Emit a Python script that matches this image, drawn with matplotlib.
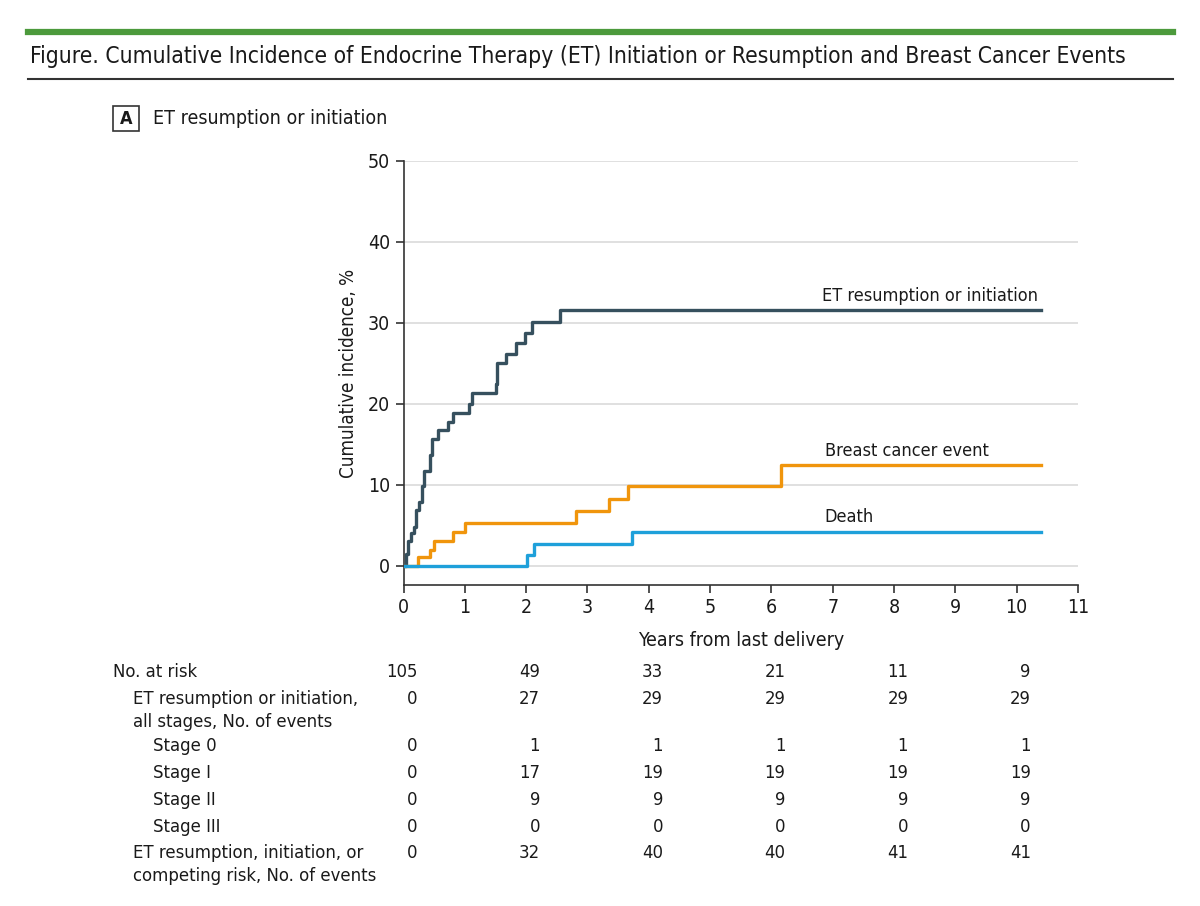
import matplotlib
matplotlib.use("Agg")
import matplotlib.pyplot as plt
from matplotlib.patches import Rectangle
from matplotlib.lines import Line2D

plt.rcParams['font.family'] = ['DejaVu Sans']
plt.rcParams['font.stretch'] = 'condensed'

# step curves (years, cumulative incidence %)
et_years = [0, 0.04, 0.08, 0.13, 0.17, 0.20, 0.26, 0.30, 0.33, 0.44, 0.46, 0.57,
            0.73, 0.81, 1.07, 1.11, 1.51, 1.53, 1.67, 1.84, 1.98, 2.09, 2.55, 10.4]
et_pct = [0, 1.5, 3.0, 4.0, 4.8, 6.9, 7.9, 9.8, 11.7, 13.7, 15.7, 16.8,
          17.8, 18.9, 20.0, 21.3, 22.4, 25.0, 26.2, 27.5, 28.8, 30.1, 31.6, 31.6]

bc_years = [0, 0.24, 0.44, 0.50, 0.80, 1.00, 2.81, 3.35, 3.66, 6.16, 10.4]
bc_pct = [0, 1.1, 2.0, 3.1, 4.2, 5.3, 6.8, 8.2, 9.8, 12.4, 12.4]

death_years = [0, 2.01, 2.13, 3.72, 10.4]
death_pct = [0, 1.3, 2.7, 4.2, 4.2]

risk_years = [0, 2, 4, 6, 8, 10]
row_labels = ['No. at risk',
              'ET resumption or initiation,\nall stages, No. of events',
              'Stage 0', 'Stage I', 'Stage II', 'Stage III',
              'ET resumption, initiation, or\ncompeting risk, No. of events']
row_values = [
    [105, 49, 33, 21, 11, 9],
    [0, 27, 29, 29, 29, 29],
    [0, 1, 1, 1, 1, 1],
    [0, 17, 19, 19, 19, 19],
    [0, 9, 9, 9, 9, 9],
    [0, 0, 0, 0, 0, 0],
    [0, 32, 40, 40, 41, 41],
]
row_indent = [0, 1, 2, 2, 2, 2, 1]

c_et = '#36505e'
c_bc = '#f0950c'
c_death = '#1ea0da'
c_text = '#1a1a1a'

W, H = 1200, 906
fig = plt.figure(figsize=(12, 9.06), dpi=100)

def fx(px):
    return px / W

def fy(py):
    return 1 - py / H

# header
fig.add_artist(Line2D([fx(28), fx(1173)], [fy(32), fy(32)], color='#4c9a3c', lw=4.5))
fig.text(fx(30), fy(56), 'Figure. Cumulative Incidence of Endocrine Therapy (ET) Initiation or Resumption and Breast Cancer Events',
         fontsize=16.4, color=c_text, va='center', ha='left')
fig.add_artist(Line2D([fx(28), fx(1173)], [fy(79), fy(79)], color='#333333', lw=1.5))

# panel label
fig.add_artist(Rectangle((fx(113), fy(131)), fx(26), 25 / H, fill=False, ec='#333333', lw=1.2))
fig.text(fx(126), fy(119), 'A', fontsize=13, fontweight='bold', ha='center', va='center', color=c_text)
fig.text(fx(153), fy(119), 'ET resumption or initiation', fontsize=14, ha='left', va='center', color=c_text)

ax = fig.add_axes([fx(403.5), fy(585), fx(1078 - 403.5), (585 - 161) / H])
ax.set_xlim(0, 11)
ax.set_ylim(-2.38, 50)
ax.set_yticks(range(0, 51, 10))
ax.set_xticks(range(0, 12))
for y in range(0, 51, 10):
    ax.axhline(y, color='#dddddd', lw=1.3, zorder=0)

ax.step(et_years, et_pct, where='post', color=c_et, lw=2.4, zorder=3)
ax.step(bc_years, bc_pct, where='post', color=c_bc, lw=2.4, zorder=3)
ax.step(death_years, death_pct, where='post', color=c_death, lw=2.4, zorder=3)

ax.text(6.83, 33.3, 'ET resumption or initiation', fontsize=13, color=c_text, va='center')
ax.text(6.87, 14.2, 'Breast cancer event', fontsize=13, color=c_text, va='center')
ax.text(6.87, 6.0, 'Death', fontsize=13, color=c_text, va='center')

for side in ['top', 'right']:
    ax.spines[side].set_visible(False)
for side in ['left', 'bottom']:
    ax.spines[side].set_color('#333333')
    ax.spines[side].set_linewidth(1.2)
ax.tick_params(direction='out', length=6, width=1.2, color='#333333', labelsize=14, labelcolor=c_text)
ax.set_ylabel('Cumulative incidence, %', fontsize=13.5, color=c_text, labelpad=7)
ax.set_xlabel('Years from last delivery', fontsize=14, color=c_text, labelpad=10)

# risk table
row_y = [672, 699, 746, 773, 800, 827, 853]
for label, vals, ind, py in zip(row_labels, row_values, row_indent, row_y):
    fig.text(fx(113 + 20 * ind), fy(py - 9), label, fontsize=13.2, color=c_text,
             ha='left', va='top', linespacing=1.35)
    for yr, v in zip(risk_years, vals):
        ax.annotate(str(v), xy=(yr + 0.23, 0), xycoords=('data', 'axes fraction'),
                    xytext=(0, -(py - 585)), textcoords='offset pixels',
                    ha='right', va='center', fontsize=13.2, color=c_text, annotation_clip=False)

fig.savefig('out.png', dpi=100)
